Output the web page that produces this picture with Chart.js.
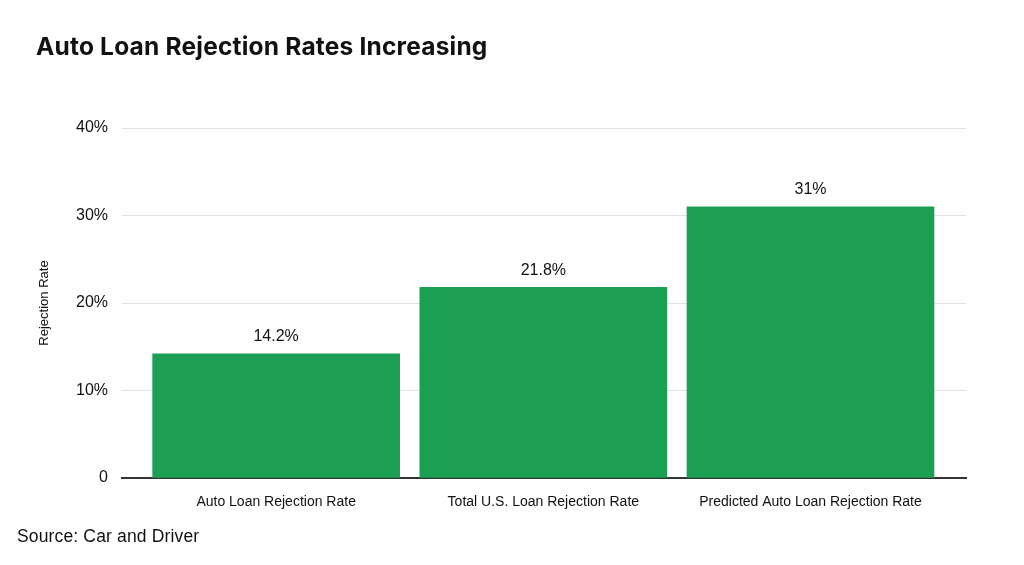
<!DOCTYPE html>
<html>
<head>
<meta charset="utf-8">
<script src="https://cdn.jsdelivr.net/npm/chart.js@4.4.1/dist/chart.umd.min.js"></script>
<style>
  html, body { margin: 0; padding: 0; background: #fff; }
  body { width: 1024px; height: 565px; position: relative; overflow: hidden;
         font-family: "Liberation Sans", Arial, sans-serif; color: #111; }
  #wrap { position: absolute; left: 0; top: 0; width: 1024px; height: 565px; }
  #title { position: absolute; left: 36px; top: 33px; font-family: Inter, "Liberation Sans", sans-serif;
           font-size: 24.5px; font-weight: bold; line-height: 26px; letter-spacing: 0.2px; white-space: nowrap; }
  #source { position: absolute; left: 17px; top: 526px; font-size: 17.5px;
            line-height: 20px; letter-spacing: 0.15px; white-space: nowrap; }
</style>
</head>
<body>
<div id="wrap"><canvas id="chart"></canvas></div>
<div id="title">Auto Loan Rejection Rates Increasing</div>
<div id="source">Source: Car and Driver</div>
<script>
// Chart data
const categories = ['Auto Loan Rejection Rate', 'Total U.S. Loan Rejection Rate', 'Predicted Auto Loan Rejection Rate'];
const rejectionRates = [14.2, 21.8, 31];
const valueLabels = ['14.2%', '21.8%', '31%'];
const yTicks = [0, 10, 20, 30, 40];

const barGreen = '#1b9f53';
const textColor = '#111111';
const fontFamily = '"Liberation Sans", Arial, sans-serif';

// Draws the value label above each bar
const barValueLabels = {
  id: 'barValueLabels',
  afterDatasetsDraw(chart) {
    const ctx = chart.ctx;
    const meta = chart.getDatasetMeta(0);
    ctx.save();
    ctx.font = '16px ' + fontFamily;
    ctx.fillStyle = textColor;
    ctx.textAlign = 'center';
    ctx.textBaseline = 'bottom';
    meta.data.forEach((bar, i) => {
      ctx.fillText(valueLabels[i], bar.x, bar.y - 9);
    });
    ctx.restore();
  }
};

function buildChart() {
  const ctx = document.getElementById('chart').getContext('2d');
  new Chart(ctx, {
    type: 'bar',
    data: {
      datasets: [{
        label: 'Rejection Rate',
        data: rejectionRates.map((v, i) => ({ x: i, y: v })),
        backgroundColor: barGreen,
        borderWidth: 0,
        barThickness: 247
      }]
    },
    options: {
      responsive: true,
      maintainAspectRatio: false,
      animation: false,
      layout: { padding: { left: 0, right: 58, top: 128, bottom: 0 } },
      plugins: {
        legend: { display: false },
        tooltip: { enabled: false }
      },
      scales: {
        x: {
          type: 'linear',
          offset: false,
          min: -0.577,
          max: 2.582,
          afterBuildTicks(scale) {
            scale.ticks = categories.map((c, i) => ({ value: i }));
          },
          afterFit(scale) { scale.height = 87; },
          grid: { display: false, drawTicks: false, offset: false },
          border: { display: true, color: '#333333', width: 2 },
          ticks: {
            autoSkip: false,
            maxRotation: 0,
            padding: 16,
            color: textColor,
            font: { family: fontFamily, size: 14 },
            callback: (value) => categories[value]
          }
        },
        y: {
          min: 0,
          max: 40,
          afterBuildTicks(scale) {
            scale.ticks = yTicks.map(v => ({ value: v }));
          },
          afterFit(scale) { scale.width = 122; },
          grid: { color: '#e2e2e2', lineWidth: 1, drawTicks: false },
          border: { display: false },
          ticks: {
            padding: 14,
            color: textColor,
            font: { family: fontFamily, size: 16 },
            callback: (value) => value === 0 ? '0' : value + '%'
          },
          title: {
            display: true,
            text: 'Rejection Rate',
            color: textColor,
            font: { family: fontFamily, size: 13 },
            padding: { top: 37, bottom: 0 }
          }
        }
      }
    },
    plugins: [barValueLabels]
  });
}

document.addEventListener('DOMContentLoaded', buildChart);
</script>
</body>
</html>
